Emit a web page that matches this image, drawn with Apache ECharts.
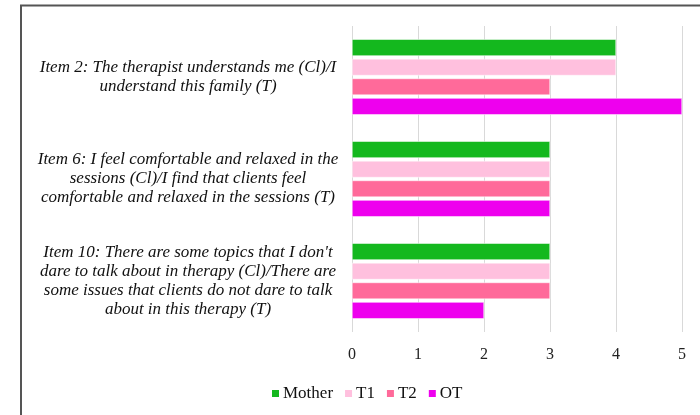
<!DOCTYPE html>
<html><head><meta charset="utf-8">
<script src="https://cdn.jsdelivr.net/npm/echarts@6/dist/echarts.min.js"></script>
<style>html,body{margin:0;padding:0;background:#fff}#c{width:700px;height:415px}</style>
</head><body><div id="c"></div>
<script>
const categories = [
  "Item 2: The therapist understands me (Cl)/I\nunderstand this family (T)",
  "Item 6: I feel comfortable and relaxed in the\nsessions (Cl)/I find that clients feel\ncomfortable and relaxed in the sessions (T)",
  "Item 10: There are some topics that I don't\ndare to talk about in therapy (Cl)/There are\nsome issues that clients do not dare to talk\nabout in this therapy (T)"
];
const seriesNames = ["Mother", "T1", "T2", "OT"];
const mother = [4, 3, 3];
const t1 = [4, 3, 3];
const t2 = [3, 3, 3];
const ot = [5, 3, 2];
const xTicks = [0, 1, 2, 3, 4, 5];
const colors = ["#14b81e", "#ffc0de", "#ff6a9a", "#ee00ee"];
const values = [mother, t1, t2, ot];

const chart = echarts.init(document.getElementById('c'), null, {renderer: 'canvas'});
chart.setOption({
  animation: false,
  color: colors,
  graphic: [
    {type: 'polyline', shape: {points: [[21, 415], [21, 5.5], [700, 5.5]]},
     style: {stroke: '#555', lineWidth: 2, fill: null}}
  ],
  grid: {left: 352, right: 18, top: 26, bottom: 83, containLabel: false},
  xAxis: {
    type: 'value', min: xTicks[0], max: xTicks[xTicks.length - 1], interval: 1,
    axisLine: {show: false}, axisTick: {show: false},
    splitLine: {show: true, lineStyle: {color: '#d9d9d9', width: 1}},
    axisLabel: {fontFamily: 'Liberation Serif', fontSize: 16, color: '#222', margin: 15}
  },
  yAxis: {
    type: 'category', data: categories, inverse: true,
    axisLine: {show: false}, axisTick: {show: false},
    axisLabel: {fontFamily: 'Liberation Serif', fontStyle: 'italic', fontSize: 17,
      color: '#111', align: 'center', margin: 164, lineHeight: 19, padding: [4, 0, 0, 0]}
  },
  legend: {
    top: 380, left: 265, itemWidth: 9, itemHeight: 9, itemGap: 10,
    icon: 'rect',
    textStyle: {fontFamily: 'Liberation Serif', fontSize: 17, color: '#111', padding: [0, 0, 0, -2]},
    data: seriesNames
  },
  series: seriesNames.map((n, i) => ({
    name: n, type: 'bar', data: values[i],
    barGap: '18%', barCategoryGap: '26%',
    itemStyle: {color: colors[i], borderColor: '#fff', borderWidth: 0.5}
  }))
});
</script></body></html>
